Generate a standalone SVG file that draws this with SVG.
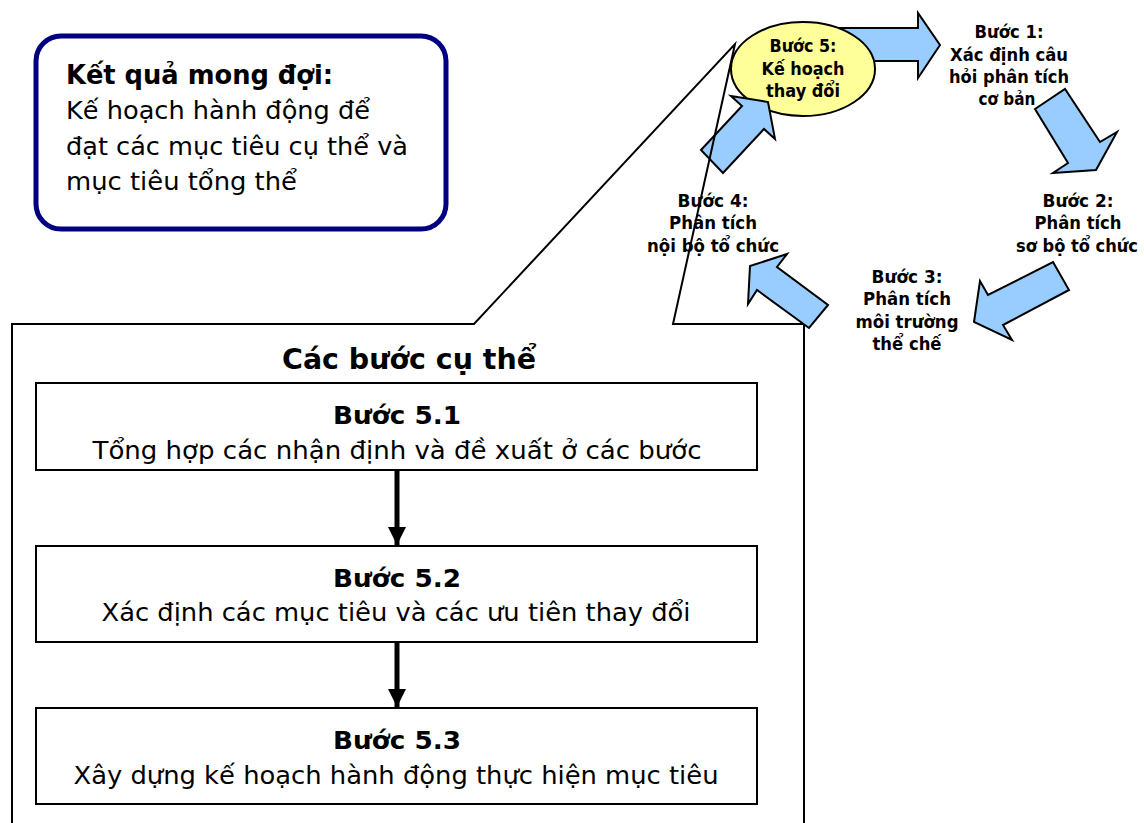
<svg xmlns="http://www.w3.org/2000/svg" width="1144" height="823" viewBox="0 0 1144 823">
  <defs>
    <style>
      text { font-family: "DejaVu Sans", Verdana, sans-serif; fill: #000; }
      .b { font-weight: bold; }
      .lg { font-size: 25.5px; }
      .hd { font-size: 29px; font-weight: bold; }
      .sm { font-size: 17.5px; font-weight: bold; }
      .box { fill: #fff; stroke: #000; stroke-width: 2; }
      .barrow { fill: #99CCFF; stroke: #000; stroke-width: 2; stroke-linejoin: miter; }
      .outline { fill: none; stroke: #000; stroke-width: 2; }
    </style>
    <marker id="head" viewBox="0 0 10 10" refX="10" refY="5" markerWidth="3.6" markerHeight="3.6" orient="auto" markerUnits="strokeWidth">
      <path d="M0,0 L10,5 L0,10 z" fill="#000"/>
    </marker>
  </defs>

  <rect width="1144" height="823" fill="#fff"/>

  <!-- expected result panel -->
  <g id="expected-result">
    <rect x="36" y="36" width="410" height="193" rx="25" ry="25" fill="#fff" stroke="#000080" stroke-width="5"/>
    <text class="b" x="66" y="84" font-size="26.5" textLength="267" lengthAdjust="spacingAndGlyphs">Kết quả mong đợi:</text>
    <text class="lg" x="66" y="119" textLength="304" lengthAdjust="spacingAndGlyphs">Kế hoạch hành động để</text>
    <text class="lg" x="66" y="155" textLength="342" lengthAdjust="spacingAndGlyphs">đạt các mục tiêu cụ thể và</text>
    <text class="lg" x="66" y="190" textLength="231" lengthAdjust="spacingAndGlyphs">mục tiêu tổng thể</text>
  </g>

  <!-- cycle arrows drawn beneath the step 5 ellipse -->
  <g id="cycle-arrows-back">
    <polygon id="arrow-5-1" class="barrow" points="840,28 918,28 918,13 940,45 918,78 918,61 840,61"/>
    <polygon id="arrow-1-2" class="barrow" points="1035,109 1065,89 1100,142 1117,132 1096,170 1053,173 1068,163"/>
    <polygon id="arrow-2-3" class="barrow" points="1053,262 1069,290 1003,325 1012,340 974,322 980,281 988,295"/>
  </g>

  <!-- step 5 -->
  <g id="step5">
    <ellipse cx="803" cy="69" rx="72" ry="47" fill="#FFFF99" stroke="#000" stroke-width="2"/>
    <text class="sm" x="803" y="52" text-anchor="middle" textLength="67" lengthAdjust="spacingAndGlyphs">Bước 5:</text>
    <text class="sm" x="803" y="75" text-anchor="middle" textLength="83" lengthAdjust="spacingAndGlyphs">Kế hoạch</text>
    <text class="sm" x="803" y="97" text-anchor="middle" textLength="74" lengthAdjust="spacingAndGlyphs">thay đổi</text>
  </g>

  <polygon id="arrow-4-5" class="barrow" points="701,150 742,106 731,96 768,102 775,139 764,129 723,173"/>

  <!-- step labels around the cycle -->
  <g id="step1">
    <text class="sm" x="1009" y="38" text-anchor="middle" textLength="69" lengthAdjust="spacingAndGlyphs">Bước 1:</text>
    <text class="sm" x="1009" y="61" text-anchor="middle" textLength="118" lengthAdjust="spacingAndGlyphs">Xác định câu</text>
    <text class="sm" x="1009" y="83" text-anchor="middle" textLength="120" lengthAdjust="spacingAndGlyphs">hỏi phân tích</text>
    <text class="sm" x="1007" y="105" text-anchor="middle" textLength="57" lengthAdjust="spacingAndGlyphs">cơ bản</text>
  </g>
  <g id="step2">
    <text class="sm" x="1078" y="207" text-anchor="middle" textLength="71" lengthAdjust="spacingAndGlyphs">Bước 2:</text>
    <text class="sm" x="1078" y="229" text-anchor="middle" textLength="87" lengthAdjust="spacingAndGlyphs">Phân tích</text>
    <text class="sm" x="1138" y="252" text-anchor="end" textLength="122" lengthAdjust="spacingAndGlyphs">sơ bộ tổ chức</text>
  </g>
  <g id="step3">
    <text class="sm" x="907" y="283" text-anchor="middle" textLength="71" lengthAdjust="spacingAndGlyphs">Bước 3:</text>
    <text class="sm" x="907" y="305" text-anchor="middle" textLength="88" lengthAdjust="spacingAndGlyphs">Phân tích</text>
    <text class="sm" x="907" y="328" text-anchor="middle" textLength="103" lengthAdjust="spacingAndGlyphs">môi trường</text>
    <text class="sm" x="907" y="350" text-anchor="middle" textLength="69" lengthAdjust="spacingAndGlyphs">thể chế</text>
  </g>
  <g id="step4">
    <text class="sm" x="713" y="207" text-anchor="middle" textLength="71" lengthAdjust="spacingAndGlyphs">Bước 4:</text>
    <text class="sm" x="713" y="229" text-anchor="middle" textLength="88" lengthAdjust="spacingAndGlyphs">Phân tích</text>
    <text class="sm" x="713" y="252" text-anchor="middle" textLength="132" lengthAdjust="spacingAndGlyphs">nội bộ tổ chức</text>
  </g>

  <!-- call-out panel expanding step 5 into its sub-steps -->
  <g id="substeps-panel">
    <path class="outline" d="M12,830 V324 H474 L735,44 L673,324 H804 V830"/>
    <text class="hd" x="409" y="369" text-anchor="middle" textLength="254" lengthAdjust="spacingAndGlyphs">Các bước cụ thể</text>
  </g>

  <polygon id="arrow-3-4" class="barrow" points="828,305 809,328 757,290 748,304 750,266 787,254 777,267"/>

  <g id="step-5-1">
    <rect class="box" x="36" y="383" width="721" height="87"/>
    <text class="lg b" x="397" y="424" text-anchor="middle" textLength="128" lengthAdjust="spacingAndGlyphs">Bước 5.1</text>
    <text class="lg" x="397" y="459" text-anchor="middle" textLength="609" lengthAdjust="spacingAndGlyphs">Tổng hợp các nhận định và đề xuất ở các bước</text>
  </g>
  <g id="step-5-2">
    <rect class="box" x="36" y="546" width="721" height="96"/>
    <text class="lg b" x="397" y="587" text-anchor="middle" textLength="128" lengthAdjust="spacingAndGlyphs">Bước 5.2</text>
    <text class="lg" x="396" y="621" text-anchor="middle" textLength="589" lengthAdjust="spacingAndGlyphs">Xác định các mục tiêu và các ưu tiên thay đổi</text>
  </g>
  <g id="step-5-3">
    <rect class="box" x="36" y="708" width="721" height="96"/>
    <text class="lg b" x="397" y="749" text-anchor="middle" textLength="128" lengthAdjust="spacingAndGlyphs">Bước 5.3</text>
    <text class="lg" x="396" y="784" text-anchor="middle" textLength="645" lengthAdjust="spacingAndGlyphs">Xây dựng kế hoạch hành động thực hiện mục tiêu</text>
  </g>

  <g id="connectors" stroke="#000" stroke-width="5" fill="none">
    <line x1="397" y1="471" x2="397" y2="545" marker-end="url(#head)"/>
    <line x1="397" y1="643" x2="397" y2="707" marker-end="url(#head)"/>
  </g>
</svg>
